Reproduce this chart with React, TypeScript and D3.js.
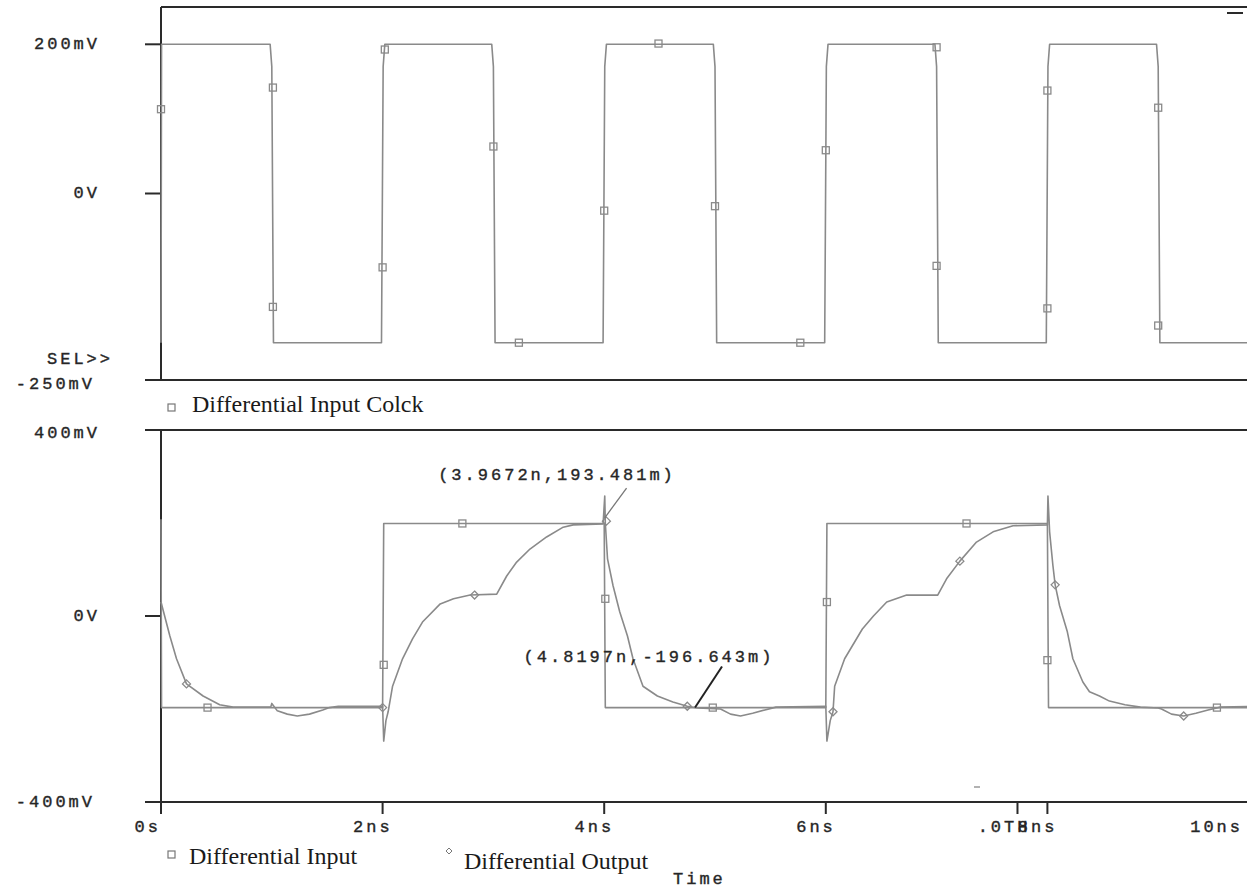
import { useEffect, useRef } from "react";
import * as d3 from "d3";

// time axis (ns)
const timeTicks = [0, 2, 4, 6, 8, 10];
const timeTickLabels = ["0s", "2ns", "4ns", "6ns", "8ns", "10ns"];
const cursorTick = 7.73;
const cursorLabel = ".0TH";

// upper plot: differential input clock (mV)
const topTicks = [200, 0, -250];
const topTickLabels = ["200mV", "0V", "-250mV"];
const clockT = [0, 0.005, 0.985, 1.0, 1.015, 1.99, 2.005, 2.02, 2.985, 3.0, 3.015, 3.99, 4.005, 4.02, 4.985, 5.0, 5.015, 5.99, 6.005, 6.02, 6.985, 7.0, 7.015, 7.99, 8.005, 8.02, 8.985, 9.0, 9.015, 10];
const clockV = [-200, 200, 200, 170, -200, -200, 170, 200, 200, 170, -200, -200, 170, 200, 200, 170, -200, -200, 170, 200, 200, 170, -200, -200, 170, 200, 200, 170, -200, -200];
const clockMarkT = [0, 1.01, 1.01, 2.0, 2.02, 3.0, 3.23, 4.0, 4.49, 5.0, 5.77, 6.0, 7.0, 7.0, 8.0, 8.0, 9.0, 9.0];
const clockMarkV = [113, 142, -152, -99, 193, 63, -200, -23, 201, -17, -200, 58, 196, -97, 138, -154, 115, -177];

// lower plot: differential input / output (mV)
const botTicks = [400, 0, -400];
const botTickLabels = ["400mV", "0V", "-400mV"];
const inputT = [0, 0.005, 2.0, 2.01, 4.0, 4.01, 6.0, 6.01, 8.0, 8.01, 10];
const inputV = [208, -197, -197, 199, 199, -197, -197, 199, 199, -197, -197];
const inputMarkT = [0.42, 2.01, 2.72, 4.01, 4.98, 6.01, 7.27, 8.0, 9.53];
const inputMarkV = [-197, -105, 199, 37, -197, 30, 199, -95, -197];

const outputT = [0, 0.08, 0.14, 0.23, 0.38, 0.53, 0.65, 0.99, 1.0, 1.05, 1.14, 1.23, 1.34, 1.46, 1.52, 1.6, 2.0, 2.01, 2.03, 2.05, 2.09, 2.18, 2.27, 2.36, 2.52, 2.64, 2.79, 3.03, 3.12, 3.21, 3.33, 3.48, 3.63, 3.72, 3.99, 4.005, 4.01, 4.03, 4.08, 4.14, 4.21, 4.26, 4.35, 4.48, 4.62, 4.75, 4.84, 5.05, 5.14, 5.23, 5.34, 5.45, 5.55, 6.0, 6.01, 6.04, 6.065, 6.08, 6.17, 6.33, 6.43, 6.55, 6.73, 7.01, 7.09, 7.21, 7.36, 7.51, 7.69, 8.0, 8.005, 8.02, 8.05, 8.07, 8.11, 8.18, 8.23, 8.32, 8.38, 8.47, 8.56, 8.7, 8.84, 9.0, 9.03, 9.12, 9.23, 9.34, 9.45, 9.56, 9.9];
const outputV = [30, -43, -92, -146, -172, -191, -196, -196, -188, -204, -211, -215, -211, -202, -197, -194, -194, -269, -225, -206, -151, -92, -49, -13, 26, 37, 45, 47, 86, 116, 144, 170, 191, 196, 198, 258, 200, 123, 65, 9, -43, -92, -151, -172, -185, -194, -198, -200, -211, -215, -209, -202, -196, -194, -269, -225, -206, -151, -92, -28, 0, 30, 45, 45, 80, 118, 159, 181, 194, 196, 258, 181, 108, 67, 22, -34, -92, -142, -163, -172, -183, -191, -196, -198, -200, -211, -215, -209, -202, -196, -194];
const outputMarkT = [0.23, 2.0, 2.83, 4.02, 4.75, 6.065, 7.21, 8.07, 9.23];
const outputMarkV = [-146, -197, 45, 204, -194, -206, 118, 67, -215];

const cursorA = { t: 3.9672, v: 193.481, label: "(3.9672n,193.481m)" };
const cursorB = { t: 4.8197, v: -196.643, label: "(4.8197n,-196.643m)" };

const App = () => {
  const svgRef = useRef<SVGSVGElement | null>(null);

  useEffect(() => {
    const width = 1247;
    const height = 890;
    const axisColor = "#2a2a2a";
    const traceColor = "#8a8a8a";
    const mono = "'Liberation Mono', 'DejaVu Sans Mono', monospace";
    const serif = "'Liberation Serif', 'DejaVu Serif', serif";

    const svg = d3.select(svgRef.current);
    svg.selectAll("*").remove();
    svg.attr("width", width).attr("height", height);

    svg.append("rect").attr("width", width).attr("height", height).attr("fill", "#fff");

    const x = d3.scaleLinear().domain([0, 10]).range([161, 1269]);
    const yTop = d3.scaleLinear().domain([-250, 250]).range([380, 7]);
    const yBot = d3.scaleLinear().domain([-400, 400]).range([802, 430]);

    const axisLine = (x1: number, y1: number, x2: number, y2: number, w = 2) =>
      svg.append("line")
        .attr("x1", x1).attr("y1", y1).attr("x2", x2).attr("y2", y2)
        .attr("stroke", axisColor).attr("stroke-width", w);

    const monoText = (tx: number, ty: number, s: string, anchor = "end") =>
      svg.append("text")
        .attr("x", tx).attr("y", ty)
        .attr("text-anchor", anchor)
        .attr("dominant-baseline", "central")
        .style("font-family", mono)
        .style("font-size", "17px")
        .style("letter-spacing", "3px")
        .style("stroke", "#333")
        .style("stroke-width", "0.4px")
        .style("fill", "#222")
        .text(s);

    // ---- upper plot frame
    axisLine(x(0), yTop(250), width, yTop(250));
    axisLine(x(0), yTop(250), x(0), yTop(-250));
    axisLine(145, yTop(-250), width, yTop(-250));
    topTicks.forEach((v, i) => {
      if (v !== -250) axisLine(145, yTop(v), x(0), yTop(v));
      monoText(v === -250 ? 95 : 100, yTop(v) + (v === -250 ? 4 : 0), topTickLabels[i]);
    });
    monoText(113, 359, "SEL>>");
    axisLine(1227, 13, 1243, 13, 2);

    // ---- lower plot frame
    axisLine(145, yBot(400), width, yBot(400));
    axisLine(x(0), yBot(400), x(0), yBot(-400));
    axisLine(145, yBot(-400), width, yBot(-400));
    botTicks.forEach((v, i) => {
      if (v === 0) axisLine(145, yBot(v), x(0), yBot(v));
      monoText(v === -400 ? 95 : 100, yBot(v) + (v === 400 ? 3 : 0), botTickLabels[i]);
    });
    svg.append("line").attr("x1", 974).attr("x2", 980).attr("y1", 787).attr("y2", 787)
      .attr("stroke", "#999").attr("stroke-width", 1.5);

    timeTicks.forEach((t, i) => {
      if (x(t) <= width) axisLine(x(t), yBot(-400), x(t), yBot(-400) + 12);
      const lx = t === 0 ? x(t) : Math.min(x(t) + 10, 1243);
      monoText(lx, 827, timeTickLabels[i]);
    });
    axisLine(x(cursorTick), yBot(-400), x(cursorTick), yBot(-400) + 12);
    monoText(x(cursorTick) + 13, 827, cursorLabel);

    // ---- traces
    const drawTrace = (ts: number[], vs: number[], y: d3.ScaleLinear<number, number>) => {
      const pts = ts.map((t, i) => [x(t), y(vs[i])] as [number, number]);
      svg.append("path")
        .datum(pts)
        .attr("fill", "none")
        .attr("stroke", traceColor)
        .attr("stroke-width", 1.6)
        .attr("stroke-linejoin", "round")
        .attr("d", d3.line());
    };
    const squares = (ts: number[], vs: number[], y: d3.ScaleLinear<number, number>) => {
      svg.selectAll(null)
        .data(ts.map((t, i) => [x(t), y(vs[i])]))
        .enter()
        .append("rect")
        .attr("x", (d) => d[0] - 3.5)
        .attr("y", (d) => d[1] - 3.5)
        .attr("width", 7)
        .attr("height", 7)
        .attr("fill", "none")
        .attr("stroke", traceColor)
        .attr("stroke-width", 1.3);
    };
    const diamonds = (ts: number[], vs: number[], y: d3.ScaleLinear<number, number>) => {
      svg.selectAll(null)
        .data(ts.map((t, i) => [x(t), y(vs[i])]))
        .enter()
        .append("path")
        .attr("d", (d) => `M${d[0]},${d[1] - 4}L${d[0] + 4},${d[1]}L${d[0]},${d[1] + 4}L${d[0] - 4},${d[1]}Z`)
        .attr("fill", "none")
        .attr("stroke", traceColor)
        .attr("stroke-width", 1.3);
    };

    drawTrace(clockT, clockV, yTop);
    squares(clockMarkT, clockMarkV, yTop);

    drawTrace(inputT, inputV, yBot);
    drawTrace(outputT, outputV, yBot);
    squares(inputMarkT, inputMarkV, yBot);
    diamonds(outputMarkT, outputMarkV, yBot);

    // ---- cursor annotations
    const ax = x(cursorA.t) + 4;
    const ay = yBot(cursorA.v) - 8;
    svg.append("line").attr("x1", ax).attr("y1", ay).attr("x2", ax + 22).attr("y2", ay - 30)
      .attr("stroke", "#777").attr("stroke-width", 1.3);
    monoText(557, 475, cursorA.label, "middle");

    const bx = x(cursorB.t);
    const by = yBot(cursorB.v);
    svg.append("line").attr("x1", bx).attr("y1", by).attr("x2", bx + 27).attr("y2", by - 41)
      .attr("stroke", "#222").attr("stroke-width", 2);
    monoText(649, 657, cursorB.label, "middle");

    // ---- legends
    const legendText = (tx: number, ty: number, s: string) =>
      svg.append("text")
        .attr("x", tx).attr("y", ty)
        .attr("dominant-baseline", "central")
        .style("font-family", serif)
        .style("font-size", "24px")
        .style("fill", "#1a1a1a")
        .text(s);

    svg.append("rect").attr("x", 168).attr("y", 404).attr("width", 7).attr("height", 7)
      .attr("fill", "none").attr("stroke", "#777").attr("stroke-width", 1.2);
    legendText(192, 404, "Differential Input Colck");

    svg.append("rect").attr("x", 168).attr("y", 851).attr("width", 7).attr("height", 7)
      .attr("fill", "none").attr("stroke", "#777").attr("stroke-width", 1.2);
    legendText(189, 856, "Differential Input");

    svg.append("path").attr("d", "M449,848L452,851L449,854L446,851Z")
      .attr("fill", "none").attr("stroke", "#777").attr("stroke-width", 1);
    legendText(464, 861, "Differential Output");

    monoText(673, 879, "Time", "start");
  }, []);

  return (
    <div style={{ position: "absolute", left: 0, top: 0 }}>
      <svg ref={svgRef}></svg>
    </div>
  );
};

export default App;
